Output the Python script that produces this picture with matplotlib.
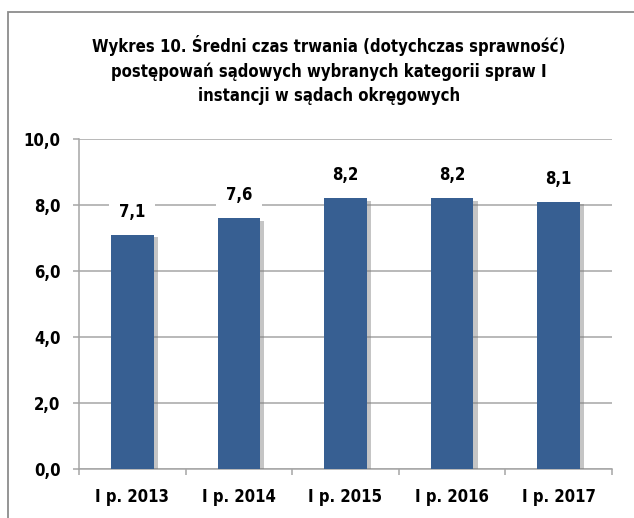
import matplotlib
matplotlib.use("Agg")
import matplotlib.pyplot as plt
from matplotlib.patches import Rectangle
import matplotlib.patheffects as pe
from matplotlib.ticker import FuncFormatter, FixedLocator

categories = ["I p. 2013", "I p. 2014", "I p. 2015", "I p. 2016", "I p. 2017"]
values = [7.1, 7.6, 8.2, 8.2, 8.1]
yticks = [0, 2, 4, 6, 8, 10]
title = ("Wykres 10. Średni czas trwania (dotychczas sprawność)\n"
         "postępowań sądowych wybranych kategorii spraw I\n"
         "instancji w sądach okręgowych")

plt.rcParams["font.family"] = ["DejaVu Sans"]
plt.rcParams["font.stretch"] = "condensed"
plt.rcParams["font.weight"] = "bold"

W, H = 634, 518
FS = 12
fig = plt.figure(figsize=(W / 100, H / 100), dpi=100)
fig.patch.set_facecolor("white")

fig.patches.append(Rectangle((8 / W, -0.05), 1.1, 1 - 12 / H + 0.05,
                             transform=fig.transFigure, fill=False,
                             edgecolor="#8c8c8c", linewidth=1.3))

ax = fig.add_axes([79 / W, 1 - 469 / H, (612 - 79) / W, (469 - 139) / H])
x = list(range(len(categories)))
bars = ax.bar(x, values, width=0.4, color="#375F92", zorder=3)
for b in bars:
    b.set_path_effects([pe.SimplePatchShadow(offset=(3, -2), shadow_rgbFace="#7f7f7f", alpha=0.45),
                        pe.Normal()])

for xi, v in zip(x, values):
    ax.annotate(f"{v:.1f}".replace(".", ","), (xi, v), xytext=(0, 16.5),
                textcoords="offset points", ha="center", va="center",
                fontsize=FS, fontweight="bold", color="black", zorder=4,
                bbox=dict(boxstyle="square,pad=0.6", facecolor="white", edgecolor="none"))

ax.set_xlim(-0.5, len(categories) - 0.5)
ax.set_ylim(0, 10)
ax.set_yticks(yticks)
ax.yaxis.set_major_formatter(FuncFormatter(lambda v, p: f"{v:.1f}".replace(".", ",")))
ax.set_xticks(x)
ax.set_xticklabels(categories)
ax.xaxis.set_minor_locator(FixedLocator([i - 0.5 for i in range(len(categories) + 1)]))

ax.grid(axis="y", color="#a6a6a6", linewidth=1.1, zorder=0)
ax.set_axisbelow(True)
for s in ["top", "right"]:
    ax.spines[s].set_visible(False)
for s in ["left", "bottom"]:
    ax.spines[s].set_color("#a6a6a6")
    ax.spines[s].set_linewidth(1.1)

ax.tick_params(axis="x", which="major", length=0, pad=13.5, labelsize=FS)
ax.tick_params(axis="x", which="minor", length=4, width=1.1, color="#a6a6a6", direction="out")
ax.tick_params(axis="y", which="major", length=4.3, width=1.1, color="#a6a6a6", pad=9, labelsize=FS)
for lab in ax.get_xticklabels() + ax.get_yticklabels():
    lab.set_fontweight("bold")

fig.text(329 / W, 1 - 70 / H, title, ha="center", va="center", fontsize=FS,
         fontweight="bold", linespacing=1.45, multialignment="center")

fig.savefig("out.png", dpi=100, facecolor="white")
